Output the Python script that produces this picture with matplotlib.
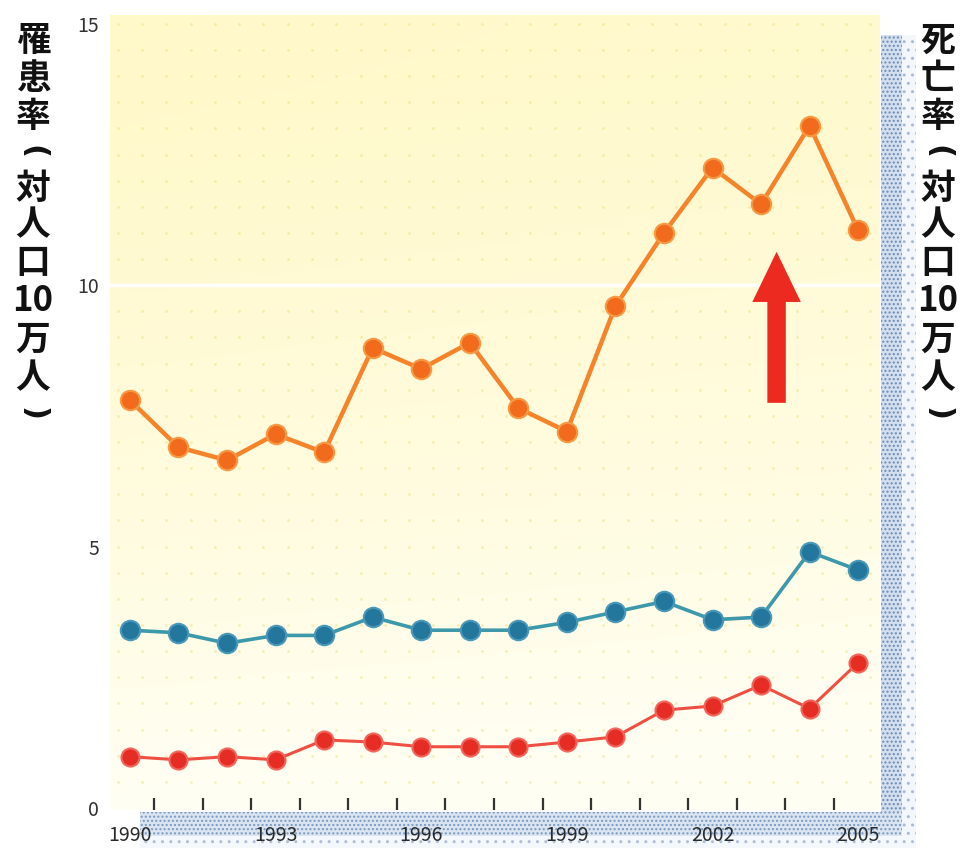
import numpy as np
import matplotlib
matplotlib.use("Agg")
import matplotlib.pyplot as plt
from matplotlib.patches import Rectangle, FancyArrow

plt.rcParams['font.family'] = ['Noto Sans CJK JP', 'DejaVu Sans']

# ---- data ----------------------------------------------------------------
years = list(range(1990, 2006))
incidence = [7.8, 6.9, 6.65, 7.15, 6.8, 8.8, 8.4, 8.9, 7.65, 7.2,
             9.6, 11.0, 12.25, 11.55, 13.05, 11.05]          # orange
series_teal = [3.4, 3.35, 3.15, 3.3, 3.3, 3.65, 3.4, 3.4, 3.4, 3.55,
               3.75, 3.95, 3.6, 3.65, 4.9, 4.55]             # teal
mortality = [0.98, 0.92, 0.98, 0.92, 1.3, 1.26, 1.17, 1.17, 1.17, 1.26,
             1.36, 1.87, 1.95, 2.35, 1.9, 2.78]              # red

ytick_values = [0, 5, 10, 15]
xtick_years = [1990, 1993, 1996, 1999, 2002, 2005]
left_label_rows = ['罹', '患', '率', '(', '対', '人', '口', '10', '万', '人', ')']
right_label_rows = ['死', '亡', '率', '(', '対', '人', '口', '10', '万', '人', ')']

# ---- figure --------------------------------------------------------------
W, H = 965, 850
fig = plt.figure(figsize=(W / 100, H / 100), dpi=100)
fig.patch.set_facecolor('white')

def px_box(x0, y0, x1, y1):
    return [x0 / W, 1 - y1 / H, (x1 - x0) / W, (y1 - y0) / H]

XMIN, XMAX, YMIN, YMAX = 1989.59, 2005.45, -0.04, 15.17
ax = fig.add_axes(px_box(110, 15, 880, 810))
ax.set_zorder(2)

# halftone shadow strips on the right and along the bottom
shadow_specs = [
    (881, 35, 902, 848, '#d3dfee', '#6b8bb5', '....'),
    (902, 35, 916, 848, '#f3f6fb', '#a8bbd6', '..'),
    (140, 812, 902, 836, '#dbe5f1', '#7a98c0', '....'),
    (140, 836, 916, 848, '#f4f7fb', '#aebfd8', '..'),
]
for x0, y0, x1, y1, fc, hc, hatch in shadow_specs:
    r = Rectangle((x0 / W, 1 - y1 / H), (x1 - x0) / W, (y1 - y0) / H,
                  transform=fig.transFigure, facecolor=fc, edgecolor=hc,
                  hatch=hatch, linewidth=0, zorder=0)
    fig.patches.append(r)

# soft yellow background: pale yellow at the top, fading to near white below
fy = np.linspace(0, 1, 256)[:, None]          # 0 = bottom, 1 = top
fx = np.linspace(0, 1, 256)[None, :]
t = np.clip(1.0 * (1 - fy) ** 1.4 + 0.12 * fx, 0, 1)
top = np.array([1.0, 0.975, 0.79])
bot = np.array([1.0, 0.998, 0.955])
img = top[None, None, :] * (1 - t[..., None]) + bot[None, None, :] * t[..., None]
ax.imshow(img, extent=[XMIN, XMAX, YMIN, YMAX], aspect='auto',
          origin='lower', zorder=0)
ax.set_xlim(XMIN, XMAX)
ax.set_ylim(YMIN, YMAX)

# faint dotted grid
gxs, gys = np.meshgrid(np.arange(1989.75, 2005.4, 0.5), np.arange(0.5, 15.1, 0.5))
ax.scatter(gxs.ravel(), gys.ravel(), s=4, color='#ece078', alpha=0.5,
           linewidths=0, zorder=1)
ax.axhline(10, color='white', lw=2.5, zorder=1, alpha=0.95)

# series
ax.plot(years, incidence, color='#f5832a', lw=3.2, zorder=4,
        marker='o', ms=14, mfc='#f26b1d', mec='#f79a45', mew=1.5)
ax.plot(years, series_teal, color='#3d98aa', lw=2.6, zorder=4,
        marker='o', ms=14, mfc='#23779c', mec='#4a98b8', mew=1.5)
ax.plot(years, mortality, color='#ef4f42', lw=2.2, zorder=4,
        marker='o', ms=13, mfc='#e52d24', mec='#f2665c', mew=1.5)

# red up arrow
ax.add_patch(FancyArrow(2003.32, 7.75, 0, 2.89, width=0.38, head_width=1.0,
                        head_length=0.96, length_includes_head=True,
                        color='#ec2a20', linewidth=0, zorder=5))

# axes styling
for s in ax.spines.values():
    s.set_visible(False)
ax.set_yticks(ytick_values)
ax.set_yticklabels([str(v) for v in ytick_values])
ax.tick_params(axis='y', length=0, pad=8, labelsize=14, labelcolor='#333333')
ax.set_xticks(xtick_years)
ax.set_xticklabels([str(y) for y in xtick_years])
ax.set_xticks(np.arange(1990.5, 2005, 1.0), minor=True)
ax.tick_params(axis='x', which='major', length=0, pad=11, labelsize=14,
               labelcolor='#2a2a2a')
ax.tick_params(axis='x', which='minor', length=9, width=1.6, direction='in',
               color='#333333', bottom=True)

# vertical axis titles, stacked one character per row;
# brackets are turned a quarter-turn so they read as vertical-text brackets
row_y = [40, 78, 116, 152, 188, 225, 262, 300, 339, 378, 414]
for col_x, rows in ((33, left_label_rows), (938, right_label_rows)):
    for ch, yp in zip(rows, row_y):
        if ch in '()':
            fig.text(col_x / W, 1 - yp / H, ch, ha='center', va='center',
                     fontsize=22, fontweight='bold', color='#111111',
                     family='DejaVu Sans', rotation=-90)
        else:
            fig.text(col_x / W, 1 - yp / H, ch, ha='center', va='center',
                     fontsize=25, fontweight='bold', color='#111111')

fig.savefig('out.png', dpi=100)
